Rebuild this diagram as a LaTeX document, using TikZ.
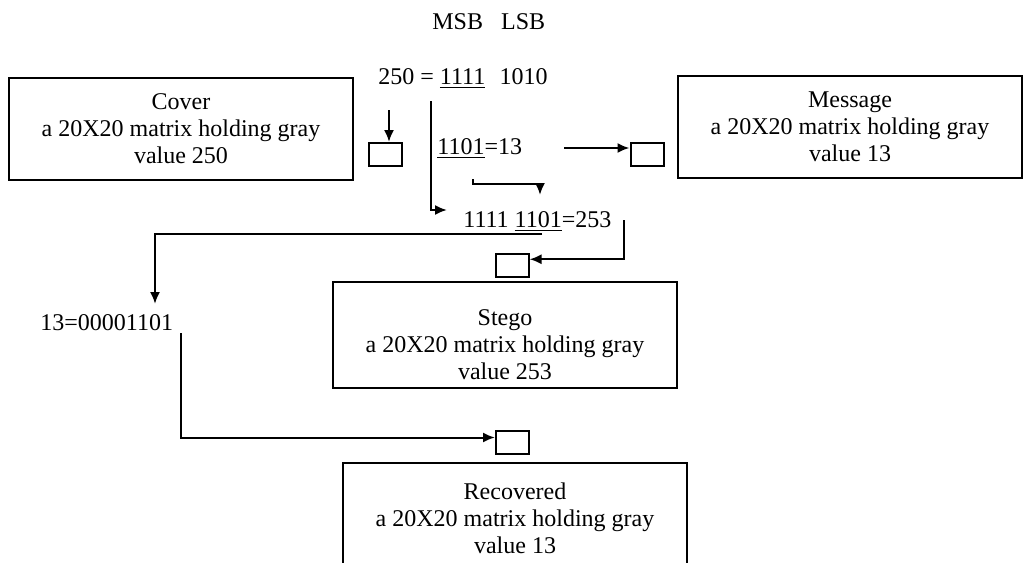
\documentclass[tikz,border=0pt]{standalone}
\usepackage{fontspec}
\setmainfont{Liberation Serif}
\usepackage{tikz}
\usetikzlibrary{calc,arrows.meta,positioning}
\tikzset{
    imgbox/.style={rectangle, draw=black, line width=1pt, minimum width=172pt, minimum height=51pt, align=center, inner sep=0pt},
    bitbox/.style={rectangle, draw=black, line width=1pt, minimum width=16.5pt, minimum height=11.5pt, inner sep=0pt},
    txt/.style={anchor=west, inner sep=0pt},
    arrow/.style={-{Latex[length=6pt,width=5pt]}, line width=1pt}
}
\begin{document}
\begin{tikzpicture}[
    x=0.5pt, y=-0.5pt,
    every node/.style={font=\fontsize{12}{13.5}\selectfont}
]
\useasboundingbox (0,0) rectangle (1027,562);
\clip (0,0) rectangle (1027,562);

% Images
\node[imgbox] (cover) at (181,128.5) {Cover\\a 20X20 matrix holding gray\\value 250};
\node[imgbox] (msg) at (850,127) {Message\\a 20X20 matrix holding gray\\value 13};
\node[imgbox, minimum height=53pt] (stego) at (505,335) {\rule{0pt}{18pt}Stego\\a 20X20 matrix holding gray\\value 253};
\node[imgbox, minimum height=55pt] (rec) at (515,518) {Recovered\\a 20X20 matrix holding gray\\value 13};

% Bits
\node[bitbox] (cbit) at (385.5,154.5) {};
\node[bitbox] (mbit) at (647,154) {};
\node[bitbox] (sbit) at (512,265.5) {};
\node[bitbox] (rbit) at (512.5,442.5) {};

% Binary values
\node[txt] (msblsb) at (432,22) {MSB\hspace{0.75em}LSB};
\node[txt] (cval) at (378,79) {250 = \underline{1111}\hspace{0.6em}1010};
\node[txt] (mval) at (437,149) {\underline{1101}=13};
\node[txt] (sval) at (463,222) {1111 \underline{1101}=253};
\node[txt] (rval) at (40,323) {13=00001101};

% Free ends
\coordinate (c1) at (389,110);
\coordinate (s1) at (431,101);
\coordinate (s2) at (447,210);
\coordinate (m1) at (564,148);
\coordinate (u1) at (473,179);
\coordinate (u2) at (540,195);
\coordinate (l1) at (542,234);
\coordinate (l2) at (155,304);
\coordinate (r1) at (624,220);
\coordinate (d1) at (181,333);

% Arrows
\draw[arrow] (c1) -- (c1 |- cbit.north);
\draw[arrow] (s1) |- (s2);
\draw[arrow] (m1) -- (mbit.west |- m1);
\draw[arrow] (u1) -- ++(0,5) -| (u2);
\draw[arrow] (l1) -| (l2);
\draw[arrow] (r1) |- ($(sbit.north east)!0.25!(sbit.south east)$);
\draw[arrow] (d1) |- ($(rbit.north west)!0.3!(rbit.south west)$);

\end{tikzpicture}
\end{document}
